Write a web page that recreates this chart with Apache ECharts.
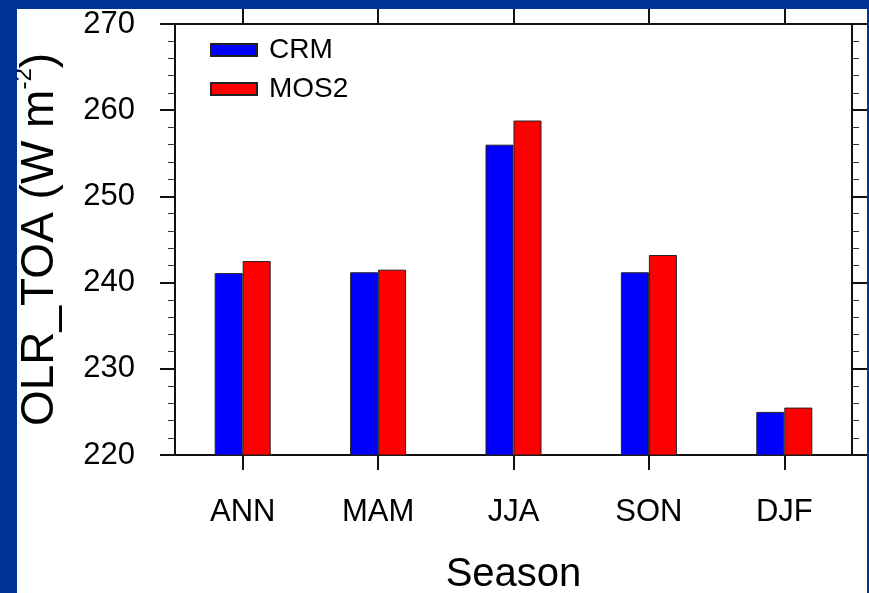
<!DOCTYPE html>
<html>
<head>
<meta charset="utf-8">
<script src="https://cdn.jsdelivr.net/npm/echarts@6/dist/echarts.min.js"></script>
<style>
html, body { margin: 0; padding: 0; background: #023496; }
#frame { position: absolute; left: 17px; top: 9px; width: 850px; height: 584px; background: #fff; overflow: hidden; }
#olr_chart { width: 850px; height: 584px; }
</style>
</head>
<body>
<div id="frame"><div id="olr_chart"></div></div>
<script>
// seasonal mean OLR at TOA, CRM vs MOS2
var seasons = ['ANN', 'MAM', 'JJA', 'SON', 'DJF'];
var crm_vals = [241.1, 241.2, 256.0, 241.2, 225.0];
var mos2_vals = [242.5, 241.5, 258.8, 243.2, 225.5];
var y_min = 220, y_max = 270, y_step = 10;

var plain_font = "'Liberation Sans', Arial, sans-serif";

var major_tick = { show: true, inside: false, length: 15, lineStyle: { color: '#111', width: 2 } };
var minor_tick = { show: true, splitNumber: 5, length: 7, lineStyle: { color: '#333', width: 1 } };
var axis_line = { show: true, lineStyle: { color: '#111', width: 2 } };

olr_option = {
    animation: false,
    grid: { left: 158, right: 15, top: 15, bottom: 138, containLabel: false, outerBoundsMode: 'none' },
    legend: {
        orient: 'vertical',
        left: 188,
        top: 22,
        itemWidth: 46,
        itemHeight: 12,
        itemGap: 11,
        icon: 'rect',
        textStyle: { fontFamily: plain_font, fontSize: 28, color: '#000', padding: [0, 0, 0, 7] },
        data: ['CRM', 'MOS2']
    },
    xAxis: [
        {
            type: 'category',
            data: seasons,
            position: 'bottom',
            axisLine: axis_line,
            axisTick: { show: true, alignWithLabel: true, length: 15, lineStyle: { color: '#111', width: 2 } },
            axisLabel: { fontFamily: plain_font, fontSize: 31, color: '#000', margin: 42 },
            name: 'Season',
            nameLocation: 'middle',
            nameGap: 100,
            nameTextStyle: { fontFamily: plain_font, fontSize: 40, color: '#000' }
        },
        {
            type: 'category',
            data: seasons,
            position: 'top',
            axisLine: axis_line,
            axisTick: { show: true, alignWithLabel: true, length: 15, lineStyle: { color: '#111', width: 2 } },
            axisLabel: { show: false }
        }
    ],
    yAxis: [
        {
            type: 'value',
            min: y_min,
            max: y_max,
            interval: y_step,
            position: 'left',
            axisLine: axis_line,
            axisTick: major_tick,
            minorTick: minor_tick,
            splitLine: { show: false },
            axisLabel: { fontFamily: plain_font, fontSize: 31, color: '#000', margin: 40 },
            name: 'OLR_TOA (W m{sup|-2})',
            nameLocation: 'middle',
            nameRotate: 90,
            nameGap: 107,
            nameTextStyle: {
                fontFamily: plain_font,
                fontSize: 46,
                color: '#000',
                rich: {
                    sup: { fontFamily: plain_font, fontSize: 24, color: '#000', padding: [0, 0, 32, 0] }
                }
            }
        },
        {
            type: 'value',
            min: y_min,
            max: y_max,
            interval: y_step,
            position: 'right',
            axisLine: axis_line,
            axisTick: major_tick,
            minorTick: minor_tick,
            splitLine: { show: false },
            axisLabel: { show: false }
        }
    ],
    series: [
        {
            name: 'CRM',
            type: 'bar',
            xAxisIndex: 0,
            yAxisIndex: 0,
            barWidth: 28,
            barGap: '0%',
            itemStyle: { color: '#0000ff', borderColor: '#222', borderWidth: 1 },
            data: crm_vals
        },
        {
            name: 'MOS2',
            type: 'bar',
            xAxisIndex: 0,
            yAxisIndex: 0,
            barWidth: 28,
            barGap: '0%',
            itemStyle: { color: '#ff0000', borderColor: '#222', borderWidth: 1 },
            data: mos2_vals
        }
    ]
};

var olr_chart = echarts.init(document.getElementById('olr_chart'));
olr_chart.setOption(olr_option);
</script>
</body>
</html>
